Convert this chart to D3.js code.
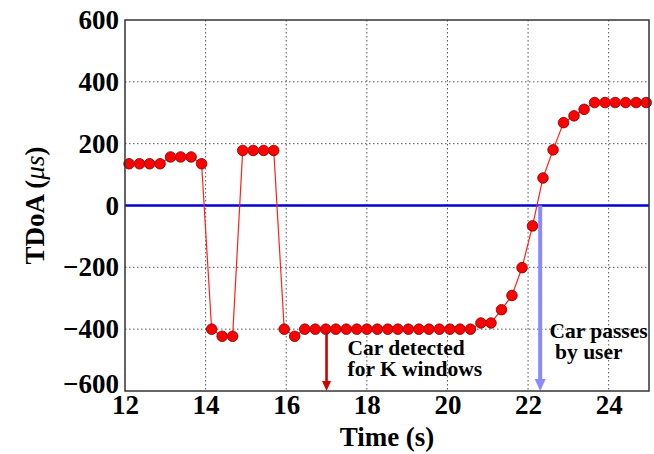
<!DOCTYPE html>
<html>

<head>
	<title>TDoA over time</title>
	<script src="https://cdn.jsdelivr.net/npm/d3@7/dist/d3.min.js"></script>
	<style>
		body { margin: 0; background: #fff; }
		text { font-family: "Liberation Serif", "Times New Roman", serif; font-weight: bold; fill: #000; }
		.tick text { font-size: 27px; }
		.grid line { stroke: #555; stroke-width: 1; stroke-dasharray: 1.5,2.5; }
	</style>
</head>

<body>
	<svg id="chart" width="654" height="454"></svg>

	<script>
		// window centre times (s)
		var times = [12.10, 12.36, 12.61, 12.87, 13.13, 13.38, 13.64, 13.90, 14.15, 14.41,
			14.67, 14.92, 15.18, 15.44, 15.69, 15.95, 16.21, 16.46, 16.72, 16.98,
			17.23, 17.49, 17.75, 18.00, 18.26, 18.52, 18.77, 19.03, 19.29, 19.54,
			19.80, 20.06, 20.31, 20.57, 20.83, 21.08, 21.34, 21.60, 21.85, 22.11,
			22.37, 22.62, 22.88, 23.14, 23.39, 23.65, 23.91, 24.16, 24.42, 24.68, 24.93];

		// TDoA (microseconds)
		var tdoa = [135, 135, 135, 135, 157, 157, 157, 135, -400, -423,
			-423, 178, 178, 178, 178, -400, -423, -400, -400, -400,
			-400, -400, -400, -400, -400, -400, -400, -400, -400, -400,
			-400, -400, -400, -400, -380, -380, -337, -291, -201, -66,
			89, 180, 268, 290, 311, 333, 333, 333, 333, 333, 333];

		var xTicks = [12, 14, 16, 18, 20, 22, 24];
		var yTicks = [-600, -400, -200, 0, 200, 400, 600];

		var detectTime = 17.0;   // car detected for K windows
		var passTime = 22.3;     // car passes by user

		var svg = d3.select('#chart'),
			margin = { top: 20, right: 5, bottom: 63, left: 125 },
			width = +svg.attr('width') - margin.left - margin.right,
			height = +svg.attr('height') - margin.top - margin.bottom,
			g = svg.append('g').attr('transform', 'translate(' + margin.left + ',' + margin.top + ')');

		var x = d3.scaleLinear().domain([12, 25]).range([0, width]);
		var y = d3.scaleLinear().domain([-600, 600]).range([height, 0]);

		// grid
		g.append('g').attr('class', 'grid')
			.selectAll('line').data(xTicks.slice(1)).enter().append('line')
			.attr('x1', d => x(d)).attr('x2', d => x(d))
			.attr('y1', 0).attr('y2', height);
		g.append('g').attr('class', 'grid')
			.selectAll('line').data(yTicks.slice(1, -1)).enter().append('line')
			.attr('x1', 0).attr('x2', width)
			.attr('y1', d => y(d)).attr('y2', d => y(d));

		// axes (labels only, box drawn separately)
		var xAxis = g.append('g').attr('transform', 'translate(0,' + height + ')')
			.call(d3.axisBottom(x).tickValues(xTicks).tickSize(0).tickPadding(0).tickFormat(d3.format('d')));
		var yAxis = g.append('g')
			.call(d3.axisLeft(y).tickValues(yTicks).tickSize(0).tickPadding(6)
				.tickFormat(d => d < 0 ? '\u2212' + Math.abs(d) : d));
		xAxis.select('.domain').remove();
		yAxis.select('.domain').remove();
		xAxis.selectAll('text').attr('y', 23).attr('dy', null);
		// lowest y label sits just above the first x label
		yAxis.selectAll('.tick text').filter(d => d === -600).attr('dy', '0.05em');

		// zero line
		g.append('line')
			.attr('x1', 0).attr('x2', width)
			.attr('y1', y(0)).attr('y2', y(0))
			.attr('stroke', '#0000dd').attr('stroke-width', 2.5);

		// series
		var pts = times.map((t, i) => [t, tdoa[i]]);
		var line = d3.line().x(d => x(d[0])).y(d => y(d[1]));
		g.append('path').datum(pts)
			.attr('d', line)
			.attr('fill', 'none')
			.attr('stroke', '#ff2020')
			.attr('stroke-width', 1.2);

		g.selectAll('.dot').data(pts).enter().append('circle')
			.attr('class', 'dot')
			.attr('cx', d => x(d[0])).attr('cy', d => y(d[1]))
			.attr('r', 5.3)
			.attr('fill', '#ff0000')
			.attr('stroke', '#7a0000')
			.attr('stroke-width', 0.8);

		// arrows
		function arrow(t, v0, v1, color, shaft, headW, headL) {
			var ax = x(t), y0 = y(v0), y1 = y(v1);
			g.append('line')
				.attr('x1', ax).attr('x2', ax)
				.attr('y1', y0).attr('y2', y1 - headL + 1)
				.attr('stroke', color).attr('stroke-width', shaft);
			g.append('path')
				.attr('d', 'M' + (ax - headW / 2) + ',' + (y1 - headL) + 'L' + (ax + headW / 2) + ',' + (y1 - headL) + 'L' + ax + ',' + y1 + 'Z')
				.attr('fill', color);
		}
		arrow(detectTime, -405, -600, '#cc0000', 2.6, 9, 10);
		arrow(passTime, 0, -600, '#8a8aff', 4, 11, 12);

		// annotations
		var note1 = g.append('text').attr('font-size', 21.5);
		note1.append('tspan').attr('x', x(17.52)).attr('y', y(-482)).text('Car detected');
		note1.append('tspan').attr('x', x(17.52)).attr('y', y(-553)).text('for K windows');

		var note2 = g.append('text').attr('font-size', 21.5);
		note2.append('tspan').attr('x', x(22.53)).attr('y', y(-427)).text('Car passes');
		note2.append('tspan').attr('x', x(22.67)).attr('y', y(-497)).text('by user');

		// frame
		g.append('rect')
			.attr('width', width).attr('height', height)
			.attr('fill', 'none').attr('stroke', '#333').attr('stroke-width', 1.5);

		// axis titles
		svg.append('text')
			.attr('x', margin.left + width / 2).attr('y', 446)
			.attr('text-anchor', 'middle').attr('font-size', 27)
			.text('Time (s)');

		var yl = svg.append('text')
			.attr('transform', 'translate(44,' + (margin.top + height / 2) + ') rotate(-90)')
			.attr('text-anchor', 'middle').attr('font-size', 27);
		yl.append('tspan').text('TDoA (');
		yl.append('tspan').attr('font-style', 'italic').attr('font-weight', 'normal').text('\u03bcs');
		yl.append('tspan').text(')');
	</script>
</body>

</html>
